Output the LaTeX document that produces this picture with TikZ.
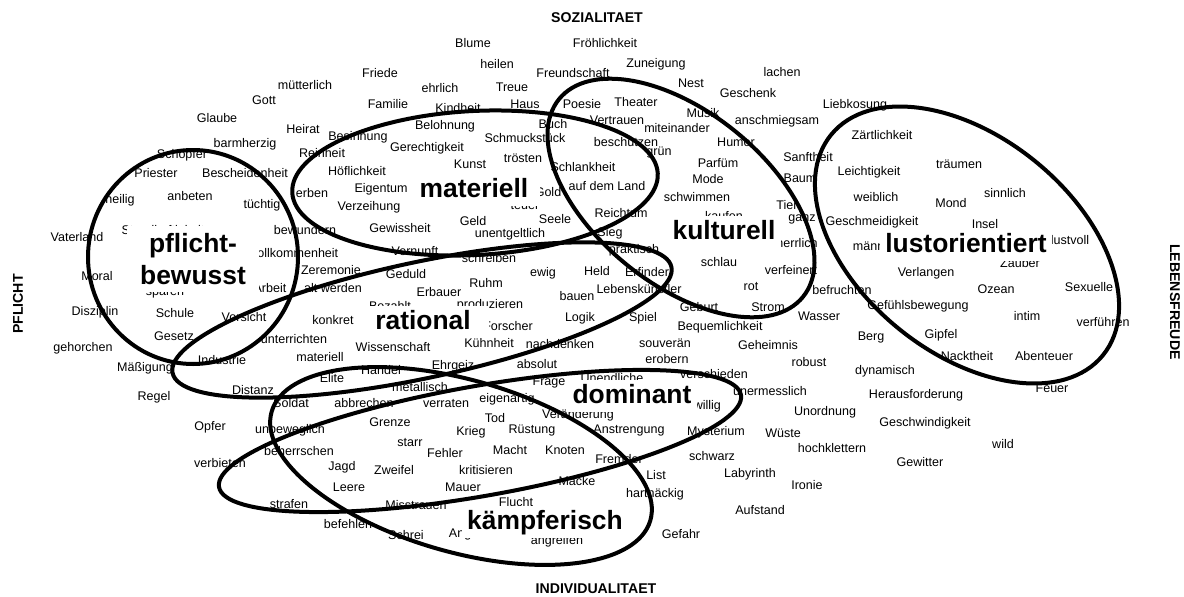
\documentclass[tikz,border=0pt]{standalone}
\usepackage{fontspec}
\setmainfont{Liberation Sans}
\begin{document}
\begin{tikzpicture}[x=0.75pt,y=-0.75pt,
  w/.style={font=\fontsize{9.4}{10}\selectfont, inner sep=0pt},
  big/.style={font=\bfseries\fontsize{19.8}{24}\selectfont, fill=white, inner xsep=4pt, inner ysep=2pt, text height=15.5pt, text depth=4.5pt},
  bigtwo/.style={font=\bfseries\fontsize{19.8}{24.5}\selectfont, fill=white, inner xsep=10pt, inner ysep=5pt, align=center},
  axis/.style={font=\bfseries\fontsize{10.6}{12}\selectfont, inner sep=0pt},
  loop/.style={draw=black, line width=3pt}]
\useasboundingbox (0,0) rectangle (1184,596);

% axis labels
\node[axis] (soz) at (597,18) {SOZIALITAET};
\node[axis] (ind) at (596,589) {INDIVIDUALITAET};
\node[axis, rotate=90] (pfl) at (18,304) {PFLICHT};
\node[axis, rotate=-90] (leb) at (1175,302) {LEBENSFREUDE};

% words
\foreach \px/\py/\t [count=\i] in {
473/43/Blume, 605/43/Fröhlichkeit, 497/64/heilen, 656/64/Zuneigung, 380/73/Friede,
573/73/Freundschaft, 782/72/lachen, 305/85/mütterlich, 440/88/ehrlich, 512/87/Treue,
691/83/Nest, 264/100/Gott, 388/104/Familie, 458/108/Kindheit, 525/104/Haus,
582/104/Poesie, 636/102/Theater, 748/93/Geschenk, 855/105/Liebkosung, 217/118/Glaube,
303/129/Heirat, 445/126/Belohnung, 553/124/Buch, 617/120/Vertrauen, 703/113/Musik,
677/128/miteinander, 777/121/anschmiegsam, 358/137/Besinnung, 525/138/Schmuckstück, 626/142/beschützen,
736/142/Humor, 882/135/Zärtlichkeit, 245/144/barmherzig, 427/148/Gerechtigkeit, 322/153/Reinheit,
659/153/grün, 182/155/Schöpfer, 523/158/trösten, 808/157/Sanftheit, 470/164/Kunst,
718/163/Parfüm, 959/164/träumen, 583/167/Schlankheit, 357/171/Höflichkeit, 156/173/Priester,
245/173/Bescheidenheit, 869/172/Leichtigkeit, 708/179/Mode, 800/178/Baum, 607/186/auf dem Land,
381/189/Eigentum, 312/193/erben, 548/192/Gold, 1005/193/sinnlich, 120/200/heilig,
190/196/anbeten, 697/197/schwimmen, 876/197/weiblich, 951/203/Mond, 262/205/tüchtig,
787/205/Tier, 525/206/teuer, 369/207/Verzeihung, 621/213/Reichtum, 724/216/kaufen,
473/221/Geld, 555/219/Seele, 802/219/ganz, 872/222/Geschmeidigkeit, 985/224/Insel,
163/231/Standhaftigkeit, 400/228/Gewissheit, 305/230/bewundern, 510/234/unentgeltlich, 610/233/Sieg,
77/237/Vaterland, 1070/240/lustvoll, 797/243/herrlich, 878/246/männlich, 634/250/praktisch,
415/251/Vernunft, 294/253/Vollkommenheit, 489/258/schreiben, 1020/263/Zauber, 719/262/schlau,
331/270/Zeremonie, 597/271/Held, 647/272/Erfinder, 791/270/verfeinert, 543/273/ewig,
926/273/Verlangen, 406/274/Geduld, 97/276/Moral, 486/283/Ruhm, 751/287/rot,
1089/287/Sexuelle, 270/288/Arbeit, 333/288/alt werden, 639/289/Lebenskünstler, 996/289/Ozean,
165/293/sparen, 842/290/befruchten, 439/292/Erbauer, 577/296/bauen, 390/306/Bezahlt,
490/305/produzieren, 918/306/Gefühlsbewegung, 699/307/Geburt, 768/307/Strom, 95/312/Disziplin,
175/313/Schule, 819/316/Wasser, 1027/316/intim, 244/317/Vorsicht, 580/318/Logik,
643/318/Spiel, 333/320/konkret, 1103/322/verführen, 508/326/Forscher, 720/327/Bequemlichkeit,
941/335/Gipfel, 174/336/Gesetz, 871/337/Berg, 294/339/unterrichten, 489/343/Kühnheit,
665/343/souverän, 560/344/nachdenken, 768/345/Geheimnis, 393/347/Wissenschaft, 83/348/gehorchen,
967/356/Nacktheit, 1044/356/Abenteuer, 320/357/materiell, 222/360/Industrie, 667/359/erobern,
809/362/robust, 537/364/absolut, 453/366/Ehrgeiz, 145/368/Mäßigung, 381/370/Handel,
885/371/dynamisch, 714/374/verschieden, 332/378/Elite, 612/378/Unendliche, 549/382/Frage,
420/387/metallisch, 1052/388/Feuer, 253/390/Distanz, 770/391/unermesslich, 916/395/Herausforderung,
154/397/Regel, 507/399/eigenartig, 291/403/Soldat, 364/403/abbrechen, 446/404/verraten,
692/406/eigenwillig, 825/412/Unordnung, 578/415/Veränderung, 495/418/Tod, 390/422/Grenze,
925/423/Geschwindigkeit, 210/427/Opfer, 290/430/unbeweglich, 532/430/Rüstung, 629/430/Anstrengung,
471/432/Krieg, 716/432/Mysterium, 783/433/Wüste, 410/443/starr, 1003/444/wild,
832/448/hochklettern, 510/450/Macht, 565/450/Knoten, 299/451/beherrschen, 445/453/Fehler,
712/456/schwarz, 619/459/Fremder, 920/462/Gewitter, 220/463/verbieten, 342/467/Jagd,
394/470/Zweifel, 486/470/kritisieren, 750/474/Labyrinth, 656/475/List, 577/481/Macke,
807/485/Ironie, 349/487/Leere, 463/487/Mauer, 516/502/Flucht, 655/494/hartnäckig,
289/504/strafen, 416/505/Misstrauen, 760/510/Aufstand, 348/524/befehlen, 681/534/Gefahr,
406/535/Schrei, 465/534/Angst, 557/541/angreifen}
  \node[w] (w\i) at (\px,\py) {\t};

% cluster outlines
\draw[loop] (193,257) ellipse [x radius=105, y radius=107];
\draw[loop, rotate around={3:(475,183)}] (475,183) ellipse [x radius=183, y radius=72];
\draw[loop, rotate around={-39:(681,198)}] (681,198) ellipse [x radius=157, y radius=86];
\draw[loop, rotate around={-39:(967,245)}] (967,245) ellipse [x radius=175, y radius=108];
\draw[loop, rotate around={12:(422,320)}] (422,320) ellipse [x radius=255, y radius=58];
\draw[loop, rotate around={10:(480,441)}] (480,441) ellipse [x radius=265, y radius=55];
\draw[loop, rotate around={-16:(461,466)}] (461,466) ellipse [x radius=197, y radius=86];

% cluster labels
\node[bigtwo] (pb) at (193,259) {pflicht-\\bewusst};
\node[big, inner xsep=9pt] (mat) at (474,190) {materiell};
\node[big] (kul) at (724,232) {kulturell};
\node[big] (lus) at (966,245) {lustorientiert};
\node[big, inner xsep=14pt] (rat) at (423,322) {rational};
\node[big] (dom) at (632,396) {dominant};
\node[big] (kae) at (545,522) {kämpferisch};
\end{tikzpicture}
\end{document}
